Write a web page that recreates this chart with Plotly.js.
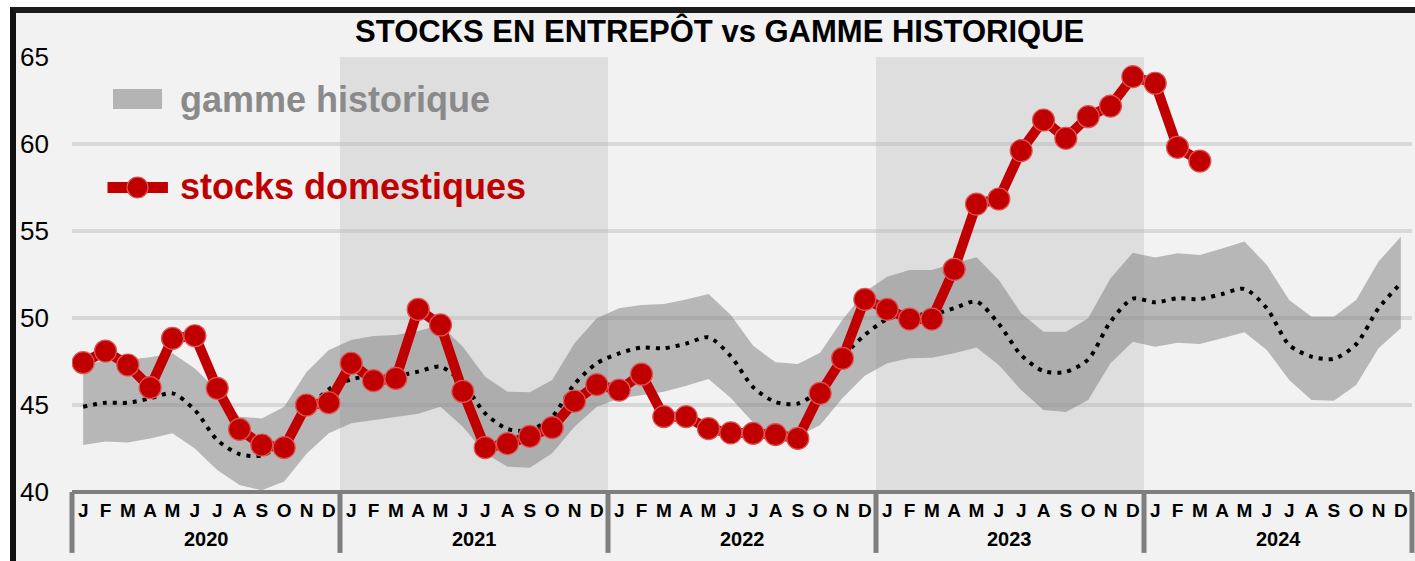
<!DOCTYPE html>
<html>
<head>
<meta charset="utf-8">
<script src="https://cdn.plot.ly/plotly-3.0.1.min.js"></script>
<style>
  html, body { margin: 0; padding: 0; background: #ffffff; width: 1415px; height: 561px; overflow: hidden; }
  #frame { position: absolute; left: 10px; top: 7px; width: 1405px; height: 554px;
           border-top: 6px solid #1c1c1c; border-left: 6px solid #111111; background: #f2f2f2; }
  #chart { position: absolute; left: 0; top: 0; width: 1399px; height: 548px; }
</style>
</head>
<body>
<div id="frame"><div id="chart"></div></div>
<script>
// ---- Data ----
const monthLabels = ['J','F','M','A','M','J','J','A','S','O','N','D'];
const years = ['2020','2021','2022','2023','2024'];

// stocks domestiques (Jan 2020 - Mar 2024)
const stocks2020 = [47.43, 48.10, 47.30, 46.00, 48.83, 48.98, 45.96, 43.60, 42.70, 42.55, 45.00, 45.13];
const stocks2021 = [47.40, 46.40, 46.53, 50.50, 49.60, 45.78, 42.55, 42.78, 43.20, 43.70, 45.22, 46.17];
const stocks2022 = [45.86, 46.77, 44.33, 44.33, 43.64, 43.40, 43.37, 43.30, 43.08, 45.67, 47.68, 51.07];
const stocks2023 = [50.50, 49.94, 49.94, 52.80, 56.55, 56.84, 59.62, 61.38, 60.33, 61.57, 62.18, 63.87];
const stocks2024 = [63.49, 59.81, 59.02];

// gamme historique : bas / haut / moyenne (Jan 2020 - Dec 2024)
const rangeLow = [
  42.70, 42.90, 42.85, 43.08, 43.37, 42.50, 41.26, 40.40, 40.10, 40.60, 42.20, 43.37,
  43.95, 44.14, 44.30, 44.50, 44.90, 43.75, 42.22, 41.45, 41.40, 42.22, 43.75, 44.90,
  45.38, 45.57, 45.76, 46.10, 46.50, 45.40, 44.00, 43.30, 43.20, 43.85, 45.40, 46.68,
  47.40, 47.68, 47.72, 47.97, 48.31, 47.30, 45.86, 44.71, 44.60, 45.29, 47.40, 48.64,
  48.35, 48.58, 48.51, 48.83, 49.18, 48.16, 46.44, 45.29, 45.25, 46.15, 48.26, 49.41
];
const rangeHigh = [
  47.40, 47.50, 47.60, 47.75, 47.97, 47.10, 45.86, 44.33, 44.23, 44.90, 46.90, 48.16,
  48.74, 48.97, 49.02, 49.25, 49.60, 48.35, 46.63, 45.76, 45.73, 46.44, 48.55, 49.98,
  50.56, 50.75, 50.80, 51.07, 51.38, 50.17, 48.40, 47.45, 47.35, 48.00, 49.90, 51.51,
  52.37, 52.76, 52.76, 53.14, 53.49, 52.18, 50.27, 49.21, 49.21, 49.98, 52.28, 53.75,
  53.47, 53.72, 53.62, 54.00, 54.39, 53.05, 51.03, 50.07, 50.07, 51.03, 53.24, 54.67
];
const rangeAvg = [
  44.90, 45.13, 45.13, 45.38, 45.67, 44.71, 42.99, 42.18, 42.10, 42.90, 44.66, 45.90,
  46.47, 46.67, 46.67, 46.92, 47.20, 46.25, 44.52, 43.62, 43.56, 44.33, 46.20, 47.40,
  47.97, 48.30, 48.26, 48.53, 48.89, 47.80, 46.03, 45.17, 45.08, 45.91, 47.74, 49.02,
  49.94, 50.20, 50.20, 50.56, 50.94, 49.66, 47.87, 46.95, 46.91, 47.62, 49.79, 51.11,
  50.90, 51.13, 51.09, 51.38, 51.67, 50.56, 48.45, 47.78, 47.66, 48.49, 50.56, 51.99
];

const yTicks = [40, 45, 50, 55, 60, 65];
const titleText = 'STOCKS EN ENTREPÔT vs GAMME HISTORIQUE';
const legendRange = 'gamme historique';
const legendStocks = 'stocks domestiques';

// ---- Build ----
const stocks = [].concat(stocks2020, stocks2021, stocks2022, stocks2023, stocks2024);
const idxAll = rangeAvg.map((_, i) => i);
const idxStocks = stocks.map((_, i) => i);
const tickText = [];
years.forEach(() => monthLabels.forEach(m => tickText.push(m)));

const RED = '#c00000';
const FONT = 'Liberation Sans, Arial, sans-serif';

const traces = [
  { x: idxAll, y: rangeLow, type: 'scatter', mode: 'lines', line: { width: 0 },
    hoverinfo: 'skip', showlegend: false },
  { x: idxAll, y: rangeHigh, type: 'scatter', mode: 'lines', line: { width: 0 },
    fill: 'tonexty', fillcolor: 'rgba(128,128,128,0.52)', hoverinfo: 'skip', showlegend: false },
  { x: idxAll, y: rangeAvg, type: 'scatter', mode: 'lines',
    line: { color: '#000000', width: 4, dash: '4px,6px', shape: 'spline', smoothing: 0.8 },
    hoverinfo: 'skip', showlegend: false },
  { x: idxStocks, y: stocks, type: 'scatter', mode: 'lines+markers',
    line: { color: RED, width: 10 },
    marker: { color: RED, size: 22, line: { color: '#dd5555', width: 1.2 } },
    showlegend: false }
];

const shapes = [];
// shaded years (2021, 2023)
[1, 3].forEach(k => shapes.push({ type: 'rect', xref: 'paper', yref: 'paper',
  x0: k / years.length, x1: (k + 1) / years.length, y0: 0, y1: 1,
  fillcolor: '#dedede', line: { width: 0 }, layer: 'below' }));
// x axis line
shapes.push({ type: 'line', xref: 'paper', yref: 'paper', x0: 0, x1: 1, y0: 0, y1: 0,
  line: { color: '#7f7f7f', width: 4 }, layer: 'above' });
// year separators
for (let k = 0; k <= years.length; k++) {
  shapes.push({ type: 'line', xref: 'paper', yref: 'paper', x0: k / years.length, x1: k / years.length,
    y0: 0, y1: -0.14, line: { color: '#7f7f7f', width: 5 }, layer: 'above' });
}
// legend symbols
shapes.push({ type: 'rect', xref: 'paper', yref: 'paper', x0: 0.0306, x1: 0.0672, y0: 0.8805, y1: 0.9264,
  fillcolor: '#b4b4b4', line: { width: 0 }, layer: 'above' });
shapes.push({ type: 'line', xref: 'paper', yref: 'paper', x0: 0.0265, x1: 0.0716, y0: 0.70, y1: 0.70,
  line: { color: RED, width: 11 }, layer: 'above' });
shapes.push({ type: 'circle', xref: 'paper', yref: 'paper', x0: 0.0489 - 0.0078, x1: 0.0489 + 0.0078,
  y0: 0.70 - 0.0241, y1: 0.70 + 0.0241, fillcolor: RED, line: { color: '#dd5555', width: 1.2 }, layer: 'above' });

const annotations = [];
years.forEach((y, k) => annotations.push({ text: '<b>' + y + '</b>', xref: 'paper', yref: 'paper',
  x: (k + 0.5) / years.length, y: -0.108, xanchor: 'center', yanchor: 'middle', showarrow: false,
  font: { family: FONT, size: 20, color: '#000000' } }));
annotations.push({ text: '<b>' + legendRange + '</b>', xref: 'paper', yref: 'paper', x: 0.0791, y: 0.903,
  xanchor: 'left', yanchor: 'middle', showarrow: false, font: { family: FONT, size: 36, color: '#8a8a8a' } });
annotations.push({ text: '<b>' + legendStocks + '</b>', xref: 'paper', yref: 'paper', x: 0.0791, y: 0.703,
  xanchor: 'left', yanchor: 'middle', showarrow: false, font: { family: FONT, size: 36, color: RED } });

const layout = {
  width: 1399, height: 548,
  margin: { l: 56, r: 3, t: 44, b: 69 },
  paper_bgcolor: '#f2f2f2', plot_bgcolor: '#f2f2f2',
  showlegend: false,
  title: { text: '<b>' + titleText + '</b>', x: 0.503, xref: 'container', xanchor: 'center',
    y: 0.967, yref: 'container', yanchor: 'middle',
    font: { family: FONT, size: 31, color: '#000000' } },
  xaxis: { range: [-0.5, idxAll.length - 0.5], tickvals: idxAll, ticktext: tickText,
    showgrid: false, zeroline: false, showline: false, ticks: '',
    tickfont: { family: FONT, size: 19, color: '#000000', weight: 700 }, ticklabelstandoff: 5,
    fixedrange: true },
  yaxis: { range: [40, 65], tickvals: yTicks, showgrid: true, gridcolor: 'rgba(185,185,185,0.45)', gridwidth: 4,
    zeroline: false, showline: false, ticks: '',
    tickfont: { family: FONT, size: 26, color: '#000000' }, ticklabelstandoff: 22, fixedrange: true },
  shapes: shapes,
  annotations: annotations
};

Plotly.newPlot('chart', traces, layout, { staticPlot: true, displayModeBar: false });
</script>
</body>
</html>
